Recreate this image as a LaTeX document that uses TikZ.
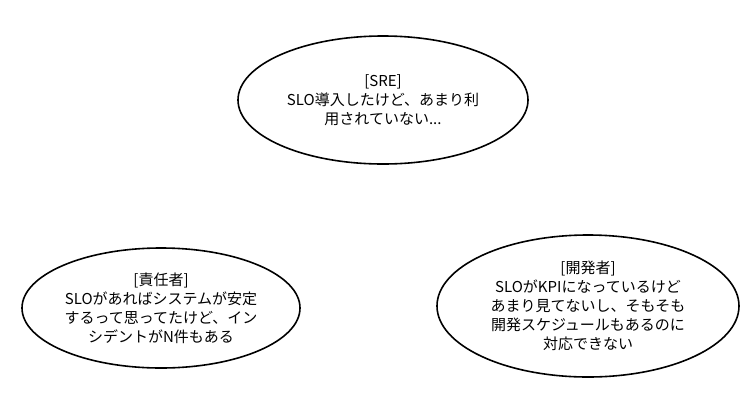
\documentclass[tikz,border=0pt]{standalone}
\usepackage{fontspec}
\setmainfont{Noto Sans CJK JP}
\usetikzlibrary{shapes.geometric}

\begin{document}
\begin{tikzpicture}[x=1pt,y=-1pt,
  bubble/.style={draw, ellipse, line width=1.6pt, inner sep=0pt, align=center,
    font=\fontsize{15}{19}\selectfont}]
\useasboundingbox (0,0) rectangle (754,402);

\node(SRE)[bubble, minimum width=290, minimum height=128] at (383,100)
  {[SRE]\\SLO導入したけど、あまり利\\用されていない...};
\node(Sekinin)[bubble, minimum width=278, minimum height=120] at (161,308)
  {[責任者]\\SLOがあればシステムが安定\\するって思ってたけど、イン\\シデントがN件もある};
\node(Kaihatsu)[bubble, minimum width=302, minimum height=142] at (588,306)
  {[開発者]\\SLOがKPIになっているけど\\あまり見てないし、そもそも\\開発スケジュールもあるのに\\対応できない};
\end{tikzpicture}
\end{document}
